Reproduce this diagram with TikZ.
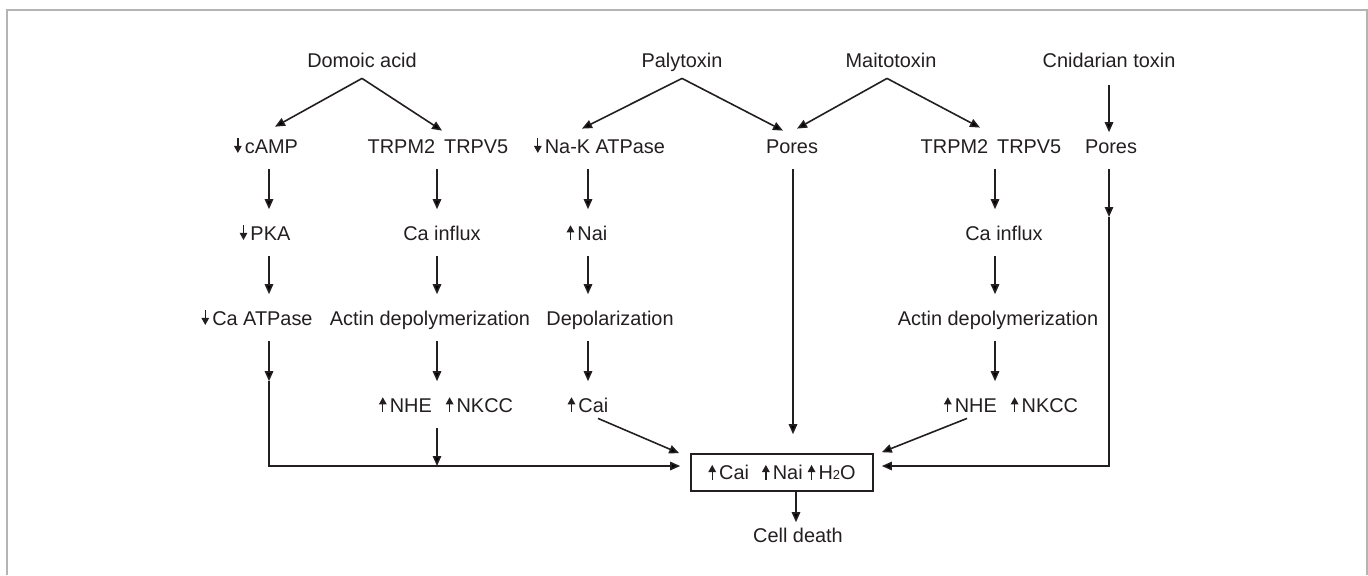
\documentclass[tikz,border=0pt]{standalone}
\usepackage{fontspec}
\setmainfont{Liberation Sans}
\usetikzlibrary{arrows.meta,calc}
\definecolor{ink}{HTML}{231F20}
\definecolor{framegray}{HTML}{B4B4B4}
\newcommand{\uparr}{\tikz[baseline=0pt]\draw[ink,line width=0.65pt,-{Triangle[length=3.6pt,width=3.8pt]}] (0pt,0pt) -- (0pt,7.4pt);\hspace{1.6pt}}
\newcommand{\dnarr}{\tikz[baseline=0pt]\draw[ink,line width=0.65pt,-{Triangle[length=3.6pt,width=3.8pt]}] (0pt,7.4pt) -- (0pt,0pt);\hspace{1.6pt}}
\tikzset{
  lbl/.style={font=\fontsize{9.95}{12}\selectfont, text=ink, inner xsep=0pt, inner ysep=8pt, text height=7.2pt, text depth=0pt, anchor=base},
  toplbl/.style={lbl, inner ysep=5.5pt},
  arr/.style={draw=ink, line width=0.8pt, -{Triangle[length=5pt,width=4.2pt]}},
  conn/.style={draw=ink, line width=0.8pt},
  framec/.style={draw=framegray, line width=0.7pt},
}
\begin{document}
\begin{tikzpicture}[x=0.5pt,y=-0.5pt]
\useasboundingbox (0,0) rectangle (1368,575);
\draw[framec] (7,575) -- (7,10) -- (1367,10) -- (1367,575);

% columns
\coordinate (c1) at (269,0);
\coordinate (c2) at (437,0);
\coordinate (c3) at (588,0);
\coordinate (c4) at (793,0);
\coordinate (c5) at (995,0);
\coordinate (c6) at (1109,0);
\coordinate (c7) at (796,0);
\coordinate (hl) at (0,466);
\coordinate (m6) at (1109,217);

% row 1
\node[toplbl] (dom) at (362,67) {Domoic acid};
\node[toplbl] (paly) at (682,67) {Palytoxin};
\node[toplbl] (mait) at (891,67) {Maitotoxin};
\node[toplbl] (cnid) at (1109,67) {Cnidarian toxin};

% row 2
\node[lbl] (camp) at (266,153) {\dnarr cAMP};
\node[lbl] (trp1) at (438,153) {TRPM2\hspace{4.5pt}TRPV5};
\node[lbl] (nak) at (599.5,153) {\dnarr Na-K ATPase};
\node[lbl] (pores1) at (792,153) {Pores};
\node[lbl] (trp2) at (991,153) {TRPM2\hspace{4.5pt}TRPV5};
\node[lbl] (pores2) at (1111,153) {Pores};

% row 3
\node[lbl] (pka) at (265,240) {\dnarr PKA};
\node[lbl] (caf1) at (442,240) {Ca influx};
\node[lbl] (nai) at (587,240) {\uparr Nai};
\node[lbl] (caf2) at (1004,240) {Ca influx};

% row 4
\node[lbl] (catp) at (257,325) {\dnarr Ca ATPase};
\node[lbl] (act1) at (430,325) {Actin depolymerization};
\node[lbl] (depol) at (610,325) {Depolarization};
\node[lbl] (act2) at (998,325) {Actin depolymerization};

% row 5
\node[lbl] (nhe1) at (446,412) {\uparr NHE\hspace{7pt}\uparr NKCC};
\node[lbl] (cai) at (588,412) {\uparr Cai};
\node[lbl] (nhe2) at (1011,412) {\uparr NHE\hspace{7pt}\uparr NKCC};

% box and outcome
\node[draw=ink, line width=0.8pt, font=\fontsize{9.95}{12}\selectfont, text=ink,
      minimum width=91pt, minimum height=18.5pt, inner sep=0pt,
      text height=7.2pt, text depth=0pt] (box) at (782,472.5)
      {\uparr Cai\hspace{6.5pt}\uparr Nai\hspace{2.5pt}\uparr H{\fontsize{6.5}{7}\selectfont 2}O};
\node[lbl, inner ysep=2.5pt] (death) at (798,542) {Cell death};

% diagonals from toxins
\draw[arr] (dom.south) -- ($(camp.north)+(9,4.5)$);
\draw[arr] (dom.south) -- ($(trp1.north)+(4,8.4)$);
\draw[arr] (paly.south) -- ($(nak.north)+(-17.5,6.4)$);
\draw[arr] (paly.south) -- ($(pores1.north)+(-9,8.4)$);
\draw[arr] ($(mait.south)+(-4,0)$) -- ($(pores1.north)+(5,6.4)$);
\draw[arr] ($(mait.south)+(-4,0)$) -- ($(trp2.north)+(-11,5.4)$);
\draw[arr, shorten <=3.5pt] (cnid.south -| c6) -- ($(pores2.north -| c6)+(0,10)$);

% column 1
\draw[arr] (camp.south -| c1) -- (pka.north -| c1);
\draw[arr] (pka.south -| c1) -- (catp.north -| c1);
\draw[arr] (catp.south -| c1) -- (nhe1.north -| c1);
\draw[arr] (nhe1.north -| c1) -- (hl -| c1) -- ($(box.west |- hl)+(-10,0)$);

% column 2
\draw[arr] (trp1.south -| c2) -- (caf1.north -| c2);
\draw[arr] (caf1.south -| c2) -- (act1.north -| c2);
\draw[arr] (act1.south -| c2) -- (nhe1.north -| c2);
\draw[arr] (nhe1.south -| c2) -- (hl -| c2);

% column 3
\draw[arr] (nak.south -| c3) -- (nai.north -| c3);
\draw[arr] (nai.south -| c3) -- (depol.north -| c3);
\draw[arr] (depol.south -| c3) -- (cai.north -| c3);
\draw[arr] ($(cai.south)+(10,-10)$) -- ($(box.north west)+(-11,0)$);

% column 4 (pores)
\draw[arr] (pores1.south -| c4) -- ($(box.north -| c4)+(0,-19)$);

% column 5
\draw[arr] (trp2.south -| c5) -- (caf2.north -| c5);
\draw[arr] (caf2.south -| c5) -- (act2.north -| c5);
\draw[arr] (act2.south -| c5) -- (nhe2.north -| c5);
\draw[arr] ($(nhe2.south)+(-44,-10)$) -- ($(box.north east)+(8,-1)$);

% column 6 (cnidarian pores)
\draw[arr] (pores2.south -| c6) -- (m6);
\draw[arr] (m6) -- (hl -| c6) -- ($(box.east |- hl)+(8,0)$);

% outcome
\draw[arr] (box.south -| c7) -- (death.north -| c7);
\end{tikzpicture}
\end{document}
